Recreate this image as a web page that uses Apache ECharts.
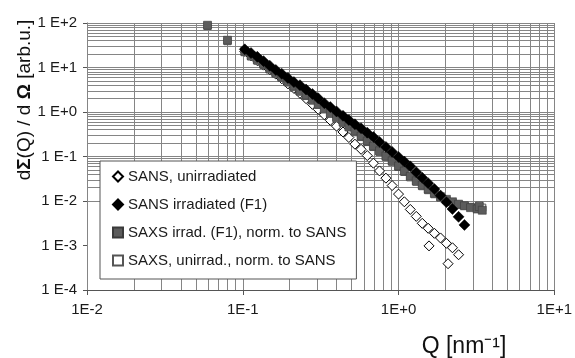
<!DOCTYPE html>
<html>
<head>
<meta charset="utf-8">
<script src="https://cdn.jsdelivr.net/npm/echarts@6/dist/echarts.min.js"></script>
<style>
  html, body { margin: 0; padding: 0; background: #fff; }
  #chart { width: 575px; height: 358px; }
</style>
</head>
<body>
<div id="chart"></div>
<script>
// Scattering cross-section dΣ/dΩ versus Q, log–log

// SANS, unirradiated sample
const sansUnirrQ = [0.103, 0.113, 0.124, 0.136, 0.149, 0.163, 0.178, 0.195, 0.213, 0.233, 0.255, 0.28, 0.305, 0.334, 0.365, 0.40, 0.44, 0.48, 0.525, 0.575, 0.63, 0.69, 0.755, 0.83, 0.91, 1.0, 1.09, 1.19, 1.30, 1.42, 1.55, 1.70, 1.86, 2.03, 2.22, 2.43, 1.57, 2.08];
const sansUnirrI = [23.1, 18.2, 14.3, 11.3, 9.0, 7.1, 5.6, 4.3, 3.4, 2.63, 1.99, 1.49, 1.15, 0.865, 0.649, 0.48, 0.356, 0.267, 0.189, 0.145, 0.105, 0.0708, 0.0474, 0.0326, 0.0222, 0.0143, 0.0096, 0.00646, 0.00451, 0.00315, 0.00244, 0.00188, 0.00148, 0.00112, 0.00089, 0.00062, 0.00098, 0.00039];

// SANS, irradiated (F1)
const sansIrrQ = [0.103, 0.113, 0.124, 0.136, 0.149, 0.163, 0.178, 0.195, 0.213, 0.233, 0.255, 0.28, 0.305, 0.334, 0.365, 0.40, 0.44, 0.48, 0.525, 0.575, 0.63, 0.69, 0.755, 0.83, 0.91, 1.0, 1.09, 1.19, 1.30, 1.42, 1.55, 1.70, 1.86, 2.03, 2.22, 2.43, 2.65];
const sansIrrI = [25.6, 21.1, 17.4, 13.9, 11.0, 8.8, 7.2, 5.8, 4.7, 4.0, 3.2, 2.54, 2.03, 1.58, 1.29, 1.03, 0.82, 0.66, 0.53, 0.43, 0.343, 0.274, 0.213, 0.164, 0.127, 0.098, 0.077, 0.060, 0.0444, 0.0333, 0.0251, 0.0185, 0.0133, 0.0094, 0.0066, 0.0044, 0.0029];

// SAXS, irradiated (F1), normalised to SANS
const saxsIrrQ = [0.0594, 0.0798, 0.103, 0.113, 0.124, 0.136, 0.149, 0.163, 0.178, 0.195, 0.213, 0.233, 0.255, 0.28, 0.305, 0.334, 0.365, 0.40, 0.44, 0.48, 0.525, 0.575, 0.63, 0.69, 0.755, 0.83, 0.91, 1.0, 1.09, 1.19, 1.30, 1.42, 1.55, 1.70, 1.86, 2.03, 2.22, 2.43, 2.65, 2.9, 3.2, 3.3, 3.45];
const saxsIrrI = [89, 41, 23.1, 18.6, 15.0, 12.0, 9.5, 7.6, 6.1, 4.8, 3.8, 3.0, 2.4, 1.89, 1.52, 1.20, 0.96, 0.76, 0.60, 0.47, 0.37, 0.287, 0.222, 0.171, 0.134, 0.103, 0.080, 0.061, 0.047, 0.036, 0.0284, 0.0226, 0.0184, 0.0149, 0.0125, 0.0109, 0.0096, 0.0085, 0.0078, 0.0071, 0.0066, 0.0075, 0.0062];

// SAXS, unirradiated, normalised to SANS
const saxsUnirrQ = [0.0594, 0.0798, 0.103, 0.113, 0.124, 0.136, 0.149, 0.163, 0.178, 0.195, 0.213, 0.233, 0.255, 0.28, 0.305, 0.334, 0.365, 0.40, 0.44, 0.48, 0.525, 0.575, 0.63, 0.69, 0.755, 0.83, 0.91, 1.0, 1.09, 1.19, 1.30, 1.42, 1.55, 1.70, 1.86, 2.03, 2.22, 2.43, 2.65, 2.9, 3.2, 3.3, 3.45];
const saxsUnirrI = [86, 39, 22, 17.6, 14.2, 11.4, 9.0, 7.2, 5.8, 4.6, 3.6, 2.85, 2.28, 1.8, 1.44, 1.14, 0.91, 0.72, 0.57, 0.45, 0.35, 0.273, 0.211, 0.163, 0.127, 0.098, 0.076, 0.058, 0.045, 0.034, 0.027, 0.0215, 0.0175, 0.0142, 0.0119, 0.0104, 0.0092, 0.0082, 0.0079, 0.0074, 0.0068, 0.0080, 0.0071];

const seriesNames = ['SANS, unirradiated', 'SANS irradiated (F1)', 'SAXS irrad. (F1), norm. to SANS', 'SAXS, unirrad., norm. to SANS'];

// Axis ranges (decades)
const xMin = 0.01, xMax = 10;
const yMin = 1e-4, yMax = 100;

const FONT = 'Liberation Sans, Arial, Helvetica, sans-serif';

function pairs(qs, is) { return qs.map((q, i) => [q, is[i]]); }

// 1..9 × 10^n grid lines for every decade of a log range
function logGrid(lo, hi) {
  const out = [];
  const e0 = Math.round(Math.log10(lo)), e1 = Math.round(Math.log10(hi));
  for (let e = e0; e < e1; e++) {
    for (let m = 1; m <= 9; m++) out.push(+(m * Math.pow(10, e)).toPrecision(3));
  }
  out.push(hi);
  return out;
}

function expLabel(v, sep) {
  const e = Math.round(Math.log10(v));
  return '1' + sep + 'E' + (e >= 0 ? '+' + e : '-' + Math.abs(e));
}

const gridLine = { color: '#858585', width: 1, type: 'solid' };

const chart = echarts.init(document.getElementById('chart'), null, { renderer: 'canvas' });

chart.setOption({
  animation: false,
  backgroundColor: '#fff',
  grid: { left: 87, top: 23, right: 20, bottom: 68 },
  xAxis: {
    type: 'log', logBase: 10, min: xMin, max: xMax, interval: 1,
    axisLine: { show: true, lineStyle: { color: '#555', width: 1 } },
    axisTick: { show: true, length: 5, lineStyle: { color: '#555' } },
    splitLine: { show: false },
    axisLabel: { margin: 12, fontSize: 15, color: '#1a1a1a', fontFamily: FONT,
      formatter: v => expLabel(v, '') }
  },
  yAxis: {
    type: 'log', logBase: 10, min: yMin, max: yMax, interval: 1,
    axisLine: { show: true, lineStyle: { color: '#555', width: 1 } },
    axisTick: { show: true, length: 4, lineStyle: { color: '#555' } },
    splitLine: { show: false },
    axisLabel: { margin: 10, fontSize: 15, color: '#1a1a1a', fontFamily: FONT,
      formatter: v => expLabel(v, ' ') }
  },
  legend: {
    data: seriesNames,
    orient: 'vertical',
    left: 100, top: 161,
    z: 20,
    padding: [7, 10, 10, 12],
    itemGap: 11,
    itemWidth: 10, itemHeight: 10,
    backgroundColor: '#fff',
    borderColor: '#555', borderWidth: 1,
    textStyle: { fontSize: 15, color: '#1a1a1a', fontFamily: FONT, lineHeight: 17 }
  },
  graphic: [
    {
      type: 'text', x: 25, y: 100, rotation: Math.PI / 2,
      style: {
        text: '{n|d}{b|Σ}{n|(Q) / d }{b|Ω}{n| [arb.u.]}',
        rich: {
          n: { fontSize: 19, fontFamily: FONT, fill: '#111' },
          b: { fontSize: 19, fontFamily: FONT, fontWeight: 'bold', fill: '#111' }
        },
        align: 'center', verticalAlign: 'middle'
      }
    },
    {
      type: 'text', x: 464, y: 347,
      style: {
        text: 'Q [nm⁻¹]', fontSize: 23, fontFamily: FONT, fill: '#111',
        align: 'center', verticalAlign: 'middle'
      }
    }
  ],
  series: [
    {
      // log grid: 1..9 per decade on both axes
      type: 'line', data: [], z: 1, silent: true,
      markLine: {
        z: 1,
        silent: true, symbol: ['none', 'none'], label: { show: false },
        lineStyle: gridLine, animation: false,
        data: logGrid(xMin, xMax).map(v => ({ xAxis: v }))
          .concat(logGrid(yMin, yMax).map(v => ({ yAxis: v })))
      }
    },
    {
      name: seriesNames[0], type: 'scatter', z: 3,
      symbol: 'diamond', symbolSize: 10,
      itemStyle: { color: '#fff', borderColor: '#000', borderWidth: 1, opacity: 1 },
      data: pairs(sansUnirrQ, sansUnirrI)
    },
    {
      name: seriesNames[3], type: 'scatter', z: 3,
      symbol: 'rect', symbolSize: 7,
      itemStyle: { color: '#fff', borderColor: '#555', borderWidth: 1, opacity: 1 },
      data: pairs(saxsUnirrQ, saxsUnirrI)
    },
    {
      name: seriesNames[2], type: 'scatter', z: 3,
      symbol: 'rect', symbolSize: 8,
      itemStyle: { color: '#5c5c5c', borderColor: '#3a3a3a', borderWidth: 0.6, opacity: 1 },
      data: pairs(saxsIrrQ, saxsIrrI)
    },
    {
      name: seriesNames[1], type: 'scatter', z: 3,
      symbol: 'diamond', symbolSize: 11,
      itemStyle: { color: '#000', borderColor: '#000', borderWidth: 0.5, opacity: 1 },
      data: pairs(sansIrrQ, sansIrrI)
    }
  ]
});
</script>
</body>
</html>
